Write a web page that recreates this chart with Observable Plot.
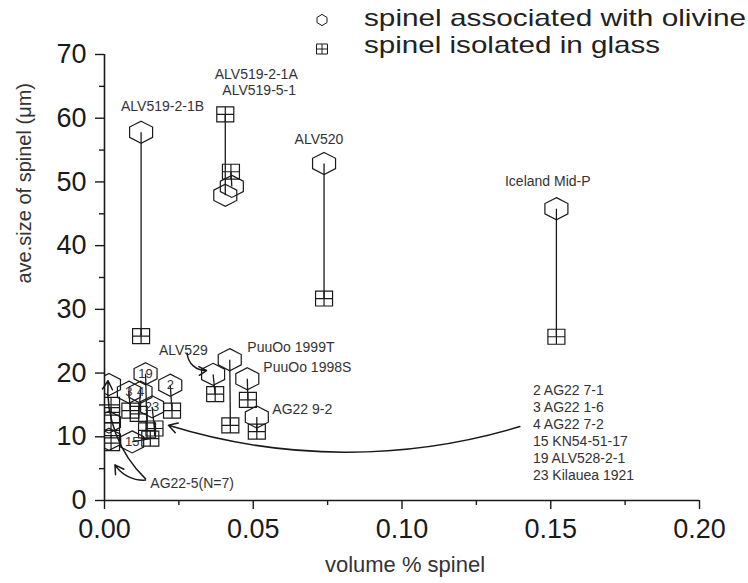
<!DOCTYPE html>
<html><head><meta charset="utf-8">
<script src="https://cdn.jsdelivr.net/npm/d3@7"></script>
<script src="https://cdn.jsdelivr.net/npm/@observablehq/plot@0.6"></script>
<style>
body{margin:0;background:#fff;font-family:"Liberation Sans",Arial,sans-serif;}
#wrap{position:relative;width:748px;height:583px;}
</style></head><body><div id="wrap"></div>
<script>
// ---- data ----
const sampleNames = ["ALV519-2-1B","ALV519-2-1A","ALV519-5-1","ALV520","Iceland Mid-P","ALV529","PuuOo 1999T","PuuOo 1998S","AG22 9-2","2","3","4","15","19","23"];
const olivX  = [0.0123,0.0406,0.0428,0.0738,0.1519,0.0365,0.0421,0.0480,0.0512,0.0221,0.0082,0.0121,0.0093,0.0138,0.0160];
const olivY  = [57.8,47.9,49.3,52.9,45.8,19.8,22.1,19.1,13.1,18.1,17.0,17.0,9.2,19.9,14.7];
const glassX = [0.0123,0.0406,0.0425,0.0738,0.1519,0.0372,0.0423,0.0482,0.0512,0.0227,0.0087,0.0115,0.0154,0.0143,0.0168];
const glassY = [25.8,60.6,51.6,31.7,25.7,16.7,11.8,15.8,10.8,14.1,14.1,13.6,9.7,11.0,11.3];
const numberedIdx = [9,10,11,12,13,14];
// AG22-5 (N=7), partly hidden at the axis
const ag5OlivX = [0.0015,0.0015,0.0015];
const ag5OlivY = [18.2,12.3,9.6];
const ag5GlassX = [0.0022,0.0022,0.0022,0.0022];
const ag5GlassY = [15.0,13.4,11.0,9.0];
// labels
const midLabels = ["ALV519-2-1B","ALV519-2-1A","ALV519-5-1","ALV520","Iceland Mid-P","ALV529"];
const midLabelX = [0.0195,0.0510,0.0520,0.0721,0.1490,0.0265];
const midLabelY = [61.9,66.9,64.3,56.6,50.0,23.6];
const startLabels = ["PuuOo 1999T","PuuOo 1998S","AG22 9-2","AG22-5(N=7)"];
const startLabelX = [0.0480,0.0534,0.0564,0.0154];
const startLabelY = [24.0,20.9,14.3,2.7];
const sampleKey = ["2 AG22 7-1","3 AG22 1-6","4 AG22 7-2","15 KN54-51-17","19 ALV528-2-1","23 Kilauea 1921"];
const sampleKeyX = 0.144, sampleKeyY = 18.4;
// arrows
const arrowX1 = [0.0278,0.1396,0.0138,0.0138];
const arrowY1 = [23.1,11.6,3.4,3.2];
const arrowX2 = [0.0343,0.0215,0.0012,0.0035];
const arrowY2 = [20.4,11.8,18.8,5.6];
const arrowBend = [-45,17,25,30];
// axes
const yTicks = [0,10,20,30,40,50,60,70];
const yMinor = [5,15,25,35,45,55,65];
const xTicks = [0,0.05,0.10,0.15,0.20];
const xTickLabels = ["0.00","0.05","0.10","0.15","0.20"];
const xMinor = [0.025,0.075,0.125,0.175];
const legendLabels = ["spinel associated with olivine","spinel isolated in glass"];

// ---- symbols ----
const hexSym = {draw(ctx, size){const rx=Math.sqrt(size/Math.PI), ry=rx*0.96, hy=rx*0.45;
  ctx.moveTo(0,-ry);ctx.lineTo(rx,-hy);ctx.lineTo(rx,hy);ctx.lineTo(0,ry);ctx.lineTo(-rx,hy);ctx.lineTo(-rx,-hy);ctx.closePath();}};
const sqSym = {draw(ctx, size){const rx=Math.sqrt(size/Math.PI), ry=rx*0.88;
  ctx.rect(-rx,-ry,2*rx,2*ry);ctx.moveTo(0,-ry);ctx.lineTo(0,ry);ctx.moveTo(-rx,0);ctx.lineTo(rx,0);}};

const idx = sampleNames.map((d,i)=>i);
const ink = "#1a1a1a";

const plot = Plot.plot({
  width:748, height:583,
  marginLeft:104, marginRight:49, marginTop:54, marginBottom:83,
  x:{domain:[0,0.2]},
  y:{domain:[0,70]},
  style:{fontFamily:'"Liberation Sans", Arial, sans-serif', color:ink, background:"white"},
  marks:[
    Plot.ruleX([0],{y1:0,y2:70,stroke:ink,strokeWidth:1.6}),
    Plot.ruleY([0],{x1:0,x2:0.2,stroke:ink,strokeWidth:1.6}),
    Plot.axisY({ticks:yTicks, tickSize:9, tickPadding:9, fontSize:27, label:null, strokeWidth:1.4}),
    Plot.axisY({ticks:yMinor, tickSize:5, tickFormat:()=>"", label:null, strokeWidth:1.4}),
    Plot.axisX({ticks:xTicks, tickSize:9, tickPadding:9, fontSize:27, label:null, strokeWidth:1.4,
      tickFormat:d=>xTickLabels[xTicks.indexOf(d)]}),
    Plot.axisX({ticks:xMinor, tickSize:5, tickFormat:()=>"", label:null, strokeWidth:1.4}),
    // connecting lines
    Plot.link(idx,{x1:i=>olivX[i],y1:i=>olivY[i],x2:i=>glassX[i],y2:i=>glassY[i],stroke:ink,strokeWidth:1.3}),
    // AG22-5 cluster (clipped at axis)
    Plot.dot(ag5GlassX.map((d,i)=>i),{x:i=>ag5GlassX[i],y:i=>ag5GlassY[i],symbol:sqSym,r:8.5,stroke:ink,strokeWidth:1.2,fill:"none",clip:true}),
    Plot.dot(ag5OlivX.map((d,i)=>i),{x:i=>ag5OlivX[i],y:i=>ag5OlivY[i],symbol:hexSym,r:11.5,stroke:ink,strokeWidth:1.2,fill:"none",clip:true}),
    // glass squares
    Plot.dot(idx,{x:i=>glassX[i],y:i=>glassY[i],symbol:sqSym,r:8.5,stroke:ink,strokeWidth:1.2,fill:"none"}),
    // olivine hexagons
    Plot.dot(idx,{x:i=>olivX[i],y:i=>olivY[i],symbol:hexSym,r:11.5,stroke:ink,strokeWidth:1.2,fill:"none"}),
    Plot.text(numberedIdx,{x:i=>olivX[i],y:i=>olivY[i],text:i=>sampleNames[i],fontSize:13,fill:"#333"}),
    // labels
    Plot.text(midLabels,{x:(d,i)=>midLabelX[i],y:(d,i)=>midLabelY[i],text:d=>d,fontSize:14,fill:"#333"}),
    Plot.text(startLabels,{x:(d,i)=>startLabelX[i],y:(d,i)=>startLabelY[i],text:d=>d,fontSize:14,textAnchor:"start",fill:"#333"}),
    Plot.text([sampleKey.join("\n")],{x:sampleKeyX,y:sampleKeyY,text:d=>d,fontSize:14,lineHeight:1.21,lineAnchor:"top",textAnchor:"start",fill:"#333"}),
    // arrows
    ...arrowX1.map((d,k)=>Plot.arrow([k],{x1:i=>arrowX1[i],y1:i=>arrowY1[i],x2:i=>arrowX2[i],y2:i=>arrowY2[i],bend:arrowBend[k],headLength:10,stroke:ink,strokeWidth:1.5})),
    // axis titles
    Plot.text(["ave.size of spinel (μm)"],{frameAnchor:"left",dx:-80,dy:6,rotate:-90,text:d=>d,fontSize:20,fill:"#333"}),
    Plot.text(["volume % spinel"],{frameAnchor:"bottom",dx:3,dy:71,text:d=>d,fontSize:22,fill:"#333"})
  ]
});
const wrap = document.getElementById("wrap");
wrap.appendChild(plot);

// legend overlay
const leg = d3.select(wrap).append("svg").attr("width",748).attr("height",62)
  .style("position","absolute").style("left","0px").style("top","0px");
const hx = 322, rx = 5, ry = 5.6, hy = 2.6;
leg.append("path").attr("d",`M${hx},${20-ry}L${hx+rx},${20-hy}L${hx+rx},${20+hy}L${hx},${20+ry}L${hx-rx},${20+hy}L${hx-rx},${20-hy}Z`)
  .attr("fill","none").attr("stroke",ink).attr("stroke-width",1);
leg.append("path").attr("d",`M${hx-5.5},${49-5}h11v10h-11ZM${hx},${44}v10M${hx-5.5},49h11`)
  .attr("fill","none").attr("stroke",ink).attr("stroke-width",1);
const legLen = [382, 296];
legendLabels.forEach((t,i)=>{
  leg.append("text").attr("x",364).attr("y",i===0?26:53).attr("font-size",24)
    .attr("textLength",legLen[i]).attr("lengthAdjust","spacingAndGlyphs")
    .attr("font-family",'"Liberation Sans", Arial, sans-serif').attr("fill","#222").text(t);
});
</script></body></html>
